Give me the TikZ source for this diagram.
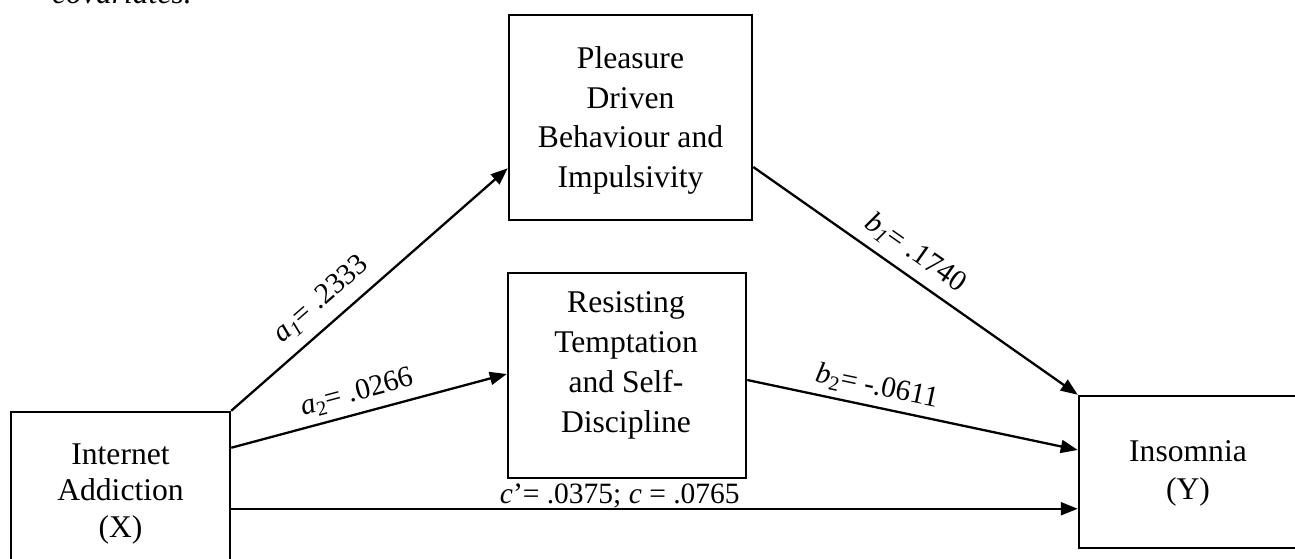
\documentclass[tikz,border=0pt]{standalone}
\usepackage{fontspec}
\setmainfont{Liberation Serif}
\usetikzlibrary{arrows.meta}
\begin{document}
\begin{tikzpicture}[x=1pt,y=-1pt,
  boxnode/.style={draw, line width=2.5pt, rectangle, inner sep=0pt},
  boxtext/.style={align=center, inner sep=0pt, anchor=center},
  conn/.style={line width=2.3pt, -{Triangle[length=17pt,width=13pt]}},
  lbl/.style={sloped, anchor=base, inner sep=0pt, font=\fontsize{29.5}{35}\selectfont}]
\useasboundingbox (0,0) rectangle (1295,559);
% boxes
\node[boxnode, minimum width=243pt, minimum height=205pt] (P) at (630.5,117.5) {};
\node[boxtext, font=\fontsize{31.6}{39.5}\selectfont] (Pt) at (630.5,120.2) {Pleasure\\Driven\\Behaviour and\\Impulsivity};
\node[boxnode, minimum width=238pt, minimum height=205pt] (R) at (627,375.5) {};
\node[boxtext, font=\fontsize{31.6}{40}\selectfont] (Rt) at (626,365.6) {Resisting\\Temptation\\and Self-\\Discipline};
\node[boxnode, minimum width=219pt, minimum height=166pt] (X) at (120.5,495) {};
\node[boxtext, font=\fontsize{31.6}{36.5}\selectfont] (Xt) at (120.5,493.9) {Internet\\Addiction\\(X)};
\node[boxnode, minimum width=218pt, minimum height=152pt] (Y) at (1188,472) {};
\node[boxtext, font=\fontsize{31.6}{38}\selectfont] (Yt) at (1188,473) {Insomnia\\(Y)};
\node[anchor=base west, inner sep=0pt, font=\fontsize{31.6}{38}\selectfont\itshape] (cov) at (52,4) {covariates.};
% connectors
\draw[conn] (X.north east) -- node[lbl, pos=0.384, yshift=17pt] (la1) {\textit{a}\textsubscript{\textit{1}}= .2333} ([yshift=53pt]P.south west);
\draw[conn] ([yshift=-37pt]X.north east) -- node[lbl, pos=0.476, yshift=13pt] (la2) {\textit{a}\textsubscript{2}= .0266} ([yshift=1.5pt]R.west);
\draw[conn] ([yshift=-49.5pt]P.east) -- node[lbl, pos=0.46, yshift=15pt] (lb1) {\textit{b}\textsubscript{\textit{1}}= .1740} (Y.north west);
\draw[conn] ([yshift=-4.5pt]R.east) -- node[lbl, pos=0.38, yshift=12pt] (lb2) {\textit{b}\textsubscript{2}= -.0611} ([yshift=22pt]Y.west);
\coordinate (cs) at ([yshift=-98pt]X.north east);
\draw[conn] (cs) -- node[lbl, pos=0.459, yshift=5pt] (lc) {\textit{c}’= .0375; \textit{c} = .0765} (cs -| Y.west);
\end{tikzpicture}
\end{document}
